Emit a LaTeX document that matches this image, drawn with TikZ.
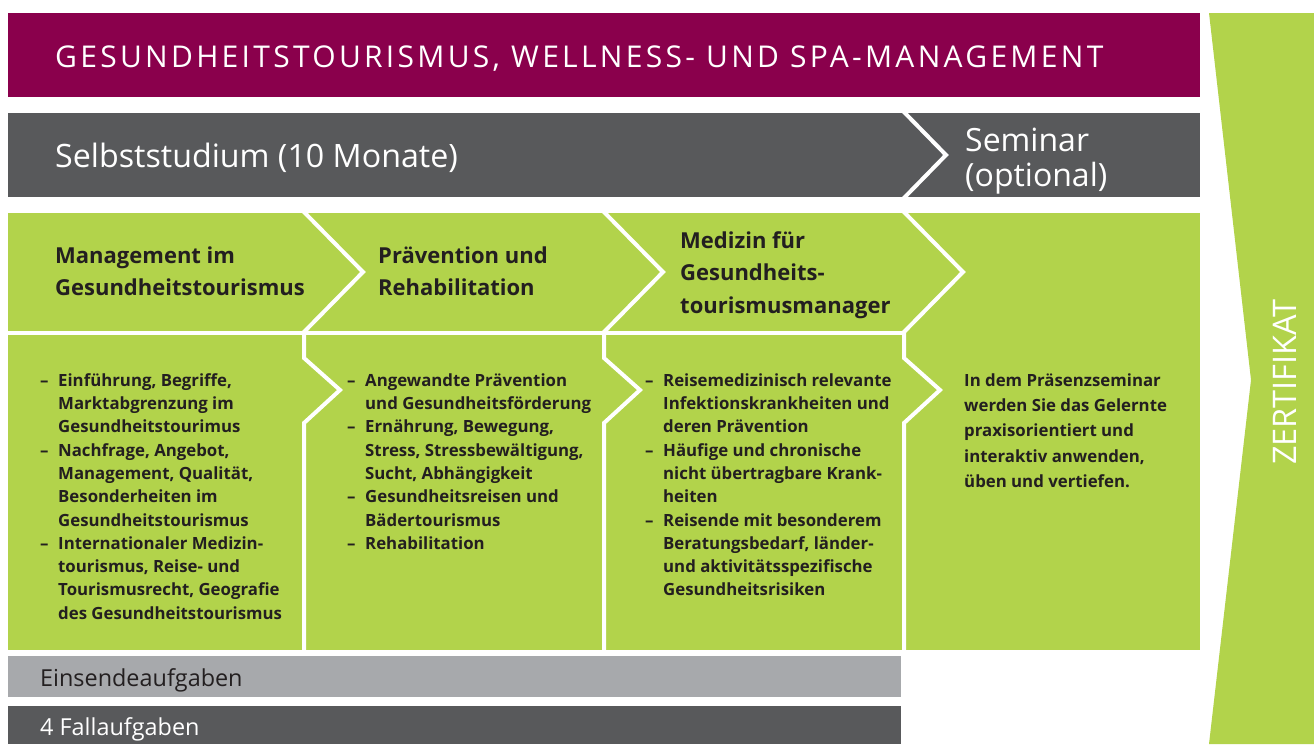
\documentclass[tikz,border=0pt]{standalone}
\usepackage{fontspec}
\setmainfont{Open Sans}
\definecolor{cMag}{HTML}{8A004C}
\definecolor{cDark}{HTML}{58595B}
\definecolor{cLight}{HTML}{A7A9AC}
\definecolor{cGreen}{HTML}{B2D34B}
\definecolor{cTxt}{HTML}{231F20}
\newcommand\itm{\makebox[18pt][l]{–}}
\newcommand\ind{\hspace*{18pt}}
\begin{document}
\begin{tikzpicture}[x=1pt,y=-1pt,
  wl/.style={draw=white,line width=4pt,line join=miter},
  body/.style={anchor=north west,inner sep=0pt,align=left,text=cTxt,font=\bfseries\fontsize{16.8}{23.3}\selectfont},
  body4/.style={anchor=north west,inner sep=0pt,align=left,text=cTxt,font=\bfseries\fontsize{16.8}{25.3}\selectfont},
  headtxt/.style={anchor=north west,inner sep=0pt,align=left,text=cTxt,font=\bfseries\fontsize{22}{32.5}\selectfont},
  bartxt/.style={anchor=base west,inner sep=0pt,text=white,font=\fontsize{32}{35}\selectfont},
  lowtxt/.style={anchor=base west,inner sep=0pt,font=\fontsize{23.4}{28}\selectfont}]
\useasboundingbox (0,0) rectangle (1314,744);
% bars
\fill[cMag] (8,13) rectangle (1200,97);
\fill[cDark] (8,113) rectangle (1200,197);
\fill[cGreen] (8,213) rectangle (1200,650);
\fill[cLight] (8,656) rectangle (901,697);
\fill[cDark] (8,706) rectangle (901,744);
\fill[cGreen] (1209,13) -- (1251,380) -- (1209,744) -- (1314,744) -- (1314,13) -- cycle;
% white chevron lines
\begin{scope}
\clip (8,113) rectangle (1200,197);
\draw[wl] (903,111) -- (946,155) -- (903,199);
\end{scope}
\begin{scope}
\clip (8,213) rectangle (1200,650);
\draw[wl] (303,211) -- (363,272) -- (303,333);
\draw[wl] (603,211) -- (663,272) -- (603,333);
\draw[wl] (903,211) -- (963,272) -- (903,333);
\draw[wl] (6,333) -- (904,333);
\draw[wl] (304,333) -- (304,358) -- (340,390) -- (304,423) -- (304,652);
\draw[wl] (604,333) -- (604,358) -- (640,390) -- (604,423) -- (604,652);
\draw[wl] (904,331) -- (904,358) -- (940,390) -- (904,423) -- (904,652);
\end{scope}
% texts
\node[anchor=base west,inner sep=0pt,text=white,font=\fontsize{30}{34}\selectfont\addfontfeatures{LetterSpace=11}] (title) at (55,67.5) {GESUNDHEITSTOURISMUS, WELLNESS- UND SPA-MANAGEMENT};
\node[bartxt,font=\fontsize{32.2}{36}\selectfont] (self) at (55,167) {Selbststudium (10 Monate)};
\node[bartxt,anchor=north west,align=left] (seminar) at (965,126.5) {\strut Seminar\\(optional)};
\node[headtxt] (h1) at (55,240.25) {\strut Management im\\Gesundheitstourismus};
\node[headtxt] (h2) at (378,240.25) {\strut Prävention und\\Rehabilitation};
\node[headtxt] (h3) at (680,225.25) {\strut Medizin für\\Gesundheits-\\tourismusmanager};
\node[body] (b1) at (40,369.7) {\strut\itm Einführung, Begriffe,\\
\ind Marktabgrenzung im\\
\ind Gesundheitstourimus\\
\itm Nachfrage, Angebot,\\
\ind Management, Qualität,\\
\ind Besonderheiten im\\
\ind Gesundheitstourismus\\
\itm Internationaler Medizin-\\
\ind tourismus, Reise- und\\
\ind Tourismusrecht, Geografie\\
\ind des Gesundheitstourismus};
\node[body] (b2) at (347,369.7) {\strut\itm Angewandte Prävention\\
\ind und Gesundheitsförderung\\
\itm Ernährung, Bewegung,\\
\ind Stress, Stressbewältigung,\\
\ind Sucht, Abhängigkeit\\
\itm Gesundheitsreisen und\\
\ind Bädertourismus\\
\itm Rehabilitation};
\node[body] (b3) at (645,369.7) {\strut\itm Reisemedizinisch relevante\\
\ind Infektionskrankheiten und\\
\ind deren Prävention\\
\itm Häufige und chronische\\
\ind nicht übertragbare Krank-\\
\ind heiten\\
\itm Reisende mit besonderem\\
\ind Beratungsbedarf, länder-\\
\ind und aktivitätsspezifische\\
\ind Gesundheitsrisiken};
\node[body4] (b4) at (964,368.3) {\strut In dem Präsenzseminar\\
werden Sie das Gelernte\\
praxisorientiert und\\
interaktiv anwenden,\\
üben und vertiefen.};
\node[lowtxt,text=cTxt] (einsende) at (40,686) {Einsendeaufgaben};
\node[lowtxt,text=white] (fall) at (40,735) {4 Fallaufgaben};
\node[rotate=90,inner sep=0pt,text=white,font=\fontsize{32.5}{36}\selectfont] (zert) at (1285,382) {ZERTIFIKAT};
\end{tikzpicture}
\end{document}
